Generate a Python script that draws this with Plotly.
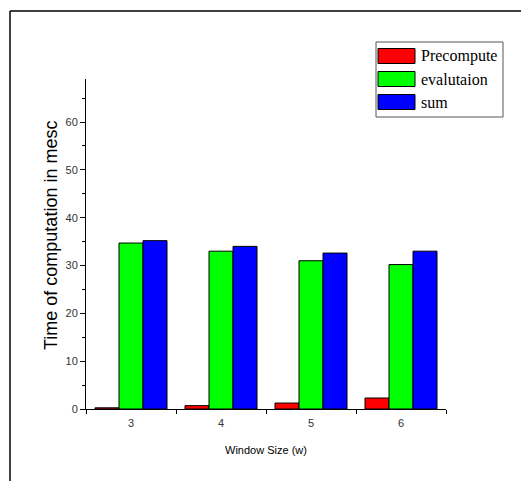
import plotly.graph_objects as go

categories = ["3", "4", "5", "6"]
precompute = [0.25, 0.7, 1.25, 2.3]
evaluation = [34.7, 33.0, 31.0, 30.2]
total = [35.2, 34.0, 32.6, 33.0]
series_names = ["Precompute", "evalutaion", "sum"]
series_colors = ["#ff0000", "#00ff00", "#0000ff"]
series_values = [precompute, evaluation, total]
x_title = "Window Size (w)"
y_title = "Time of computation in mesc"

W, H = 521, 481
L, R, T, B = 86, 75, 79, 72
pw, ph = W - L - R, H - T - B

fig = go.Figure()
for name, color, vals in zip(series_names, series_colors, series_values):
    fig.add_trace(go.Bar(x=categories, y=vals, name=name, marker_color=color,
                         marker_line=dict(color="black", width=1), showlegend=False))

def px_x(x):
    return (x - L) / pw

def px_y(y):
    return (H - B - y) / ph

shapes = [
    # outer frame (left and top edges)
    dict(type="line", xref="paper", yref="paper", x0=px_x(10), x1=px_x(10), y0=px_y(11), y1=px_y(485),
         line=dict(color="black", width=1.5)),
    dict(type="line", xref="paper", yref="paper", x0=px_x(10), x1=px_x(525), y0=px_y(11), y1=px_y(11),
         line=dict(color="black", width=1.5)),
    # legend box
    dict(type="rect", xref="paper", yref="paper", x0=px_x(376), x1=px_x(503), y0=px_y(42), y1=px_y(117),
         line=dict(color="#555555", width=1), fillcolor="white"),
]
annotations = []
for i, (name, color) in enumerate(zip(series_names, series_colors)):
    yc = 56 + i * 23
    shapes.append(dict(type="rect", xref="paper", yref="paper", x0=px_x(378), x1=px_x(415),
                       y0=px_y(yc - 7.5), y1=px_y(yc + 7.5), fillcolor=color,
                       line=dict(color="black", width=1)))
    annotations.append(dict(text=name, xref="paper", yref="paper", x=px_x(419), y=px_y(yc),
                            xanchor="left", yanchor="middle", showarrow=False,
                            font=dict(family="Liberation Serif", size=16, color="black")))

annotations.append(dict(text=y_title, xref="paper", yref="paper", x=px_x(51), y=px_y(236),
                        xanchor="center", yanchor="middle", textangle=-90, showarrow=False,
                        font=dict(family="Arial", size=18, color="black")))
annotations.append(dict(text=x_title, xref="paper", yref="paper", x=px_x(266), y=px_y(450),
                        xanchor="center", yanchor="middle", showarrow=False,
                        font=dict(family="Arial", size=11, color="black")))

fig.update_layout(
    width=W, height=H,
    margin=dict(l=L, r=R, t=T, b=B),
    paper_bgcolor="white", plot_bgcolor="white",
    barmode="group", bargap=0.2, bargroupgap=0,
    shapes=shapes, annotations=annotations,
    font=dict(family="Arial", color="#333333"),
)
fig.update_xaxes(
    type="category", range=[-0.5, 3.5],
    showline=True, linecolor="black", linewidth=1,
    ticks="outside", tickson="boundaries", ticklen=4, tickcolor="black",
    ticklabelstandoff=4,
    tickfont=dict(size=11, family="Arial", color="#333333"),
    showgrid=False, zeroline=False,
)
fig.update_yaxes(
    range=[0, 69], tickvals=[0, 10, 20, 30, 40, 50, 60],
    showline=True, linecolor="black", linewidth=1,
    ticks="outside", ticklen=5, tickcolor="black",
    minor=dict(tickvals=[5, 15, 25, 35, 45, 55, 65], ticks="outside", ticklen=3, tickcolor="black"),
    tickfont=dict(size=11, family="Arial", color="#333333"),
    showgrid=False, zeroline=False,
)

fig.write_html("out.html")
